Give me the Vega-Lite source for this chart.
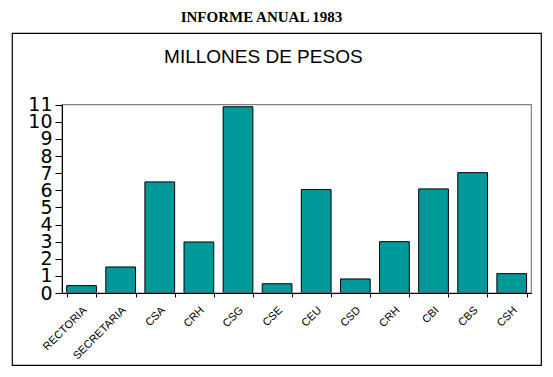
{
  "$schema": "https://vega.github.io/schema/vega-lite/v6.json",
  "width": 529,
  "height": 332,
  "autosize": "none",
  "padding": {"left": 12, "top": 33, "right": 12, "bottom": 12},
  "background": "white",
  "config": {"view": {"stroke": "black", "strokeWidth": 1.2}, "axisY": {"labelOverlap": false}},
  "title": {"text": "INFORME ANUAL 1983", "font": "Liberation Serif", "fontSize": 15, "fontWeight": "bold", "color": "black", "anchor": "middle", "dx": -15, "offset": 8},
  "layer": [
    {
      "data": {"values": [
        {"unidad": "RECTORIA", "valor": 0.43},
        {"unidad": "SECRETARIA", "valor": 1.52},
        {"unidad": "CSA", "valor": 6.49},
        {"unidad": "CRH", "valor": 2.98},
        {"unidad": "CSG", "valor": 10.88},
        {"unidad": "CSE", "valor": 0.54},
        {"unidad": "CEU", "valor": 6.04},
        {"unidad": "CSD", "valor": 0.82},
        {"unidad": " CRH", "valor": 3.0},
        {"unidad": "CBI", "valor": 6.08},
        {"unidad": "CBS", "valor": 7.03},
        {"unidad": "CSH", "valor": 1.13}
      ]},
      "mark": {"type": "bar", "fill": "#009999", "stroke": "black", "strokeWidth": 1},
      "encoding": {
        "x": {
          "field": "unidad", "type": "nominal", "sort": null,
          "scale": {"range": [50, 519.3], "paddingInner": 0.24, "paddingOuter": 0.12},
          "axis": {"orient": "bottom", "title": null, "labelAngle": -45, "labelAlign": "right", "labelBaseline": "top", "labelFont": "Liberation Sans", "labelFontSize": 11, "labelColor": "black", "tickColor": "black", "domainColor": "black", "tickSize": 4, "tickBand": "extent", "labelPadding": 7, "labelOffset": -1, "offset": -72, "zindex": 1}
        },
        "y": {
          "field": "valor", "type": "quantitative",
          "scale": {"domain": [0, 11], "range": [260, 71.7], "nice": false},
          "axis": {"orient": "left", "title": null, "values": [0, 2, 4, 6, 8, 10], "labelFont": "DejaVu Sans", "labelFontSize": 19, "labelColor": "black", "tickColor": "black", "domainColor": "black", "tickSize": 7, "labelPadding": 3, "offset": -50, "grid": false, "zindex": 1, "labelOverlap": false, "labelFlush": false, "labelBound": false}
        }
      }
    },
    {
      "data": {"values": [{}]},
      "layer": [
        {
          "mark": {"type": "rect", "fillOpacity": 0, "stroke": "#808080", "strokeWidth": 1.2},
          "encoding": {
            "x": {"datum": 0, "type": "quantitative", "scale": {"domain": [0, 1], "range": [50, 519.3]}, "axis": null},
            "x2": {"datum": 1},
            "y": {"datum": 0, "type": "quantitative", "axis": {"orient": "left", "title": null, "values": [1, 3, 5, 7, 9, 11], "labelFont": "DejaVu Sans", "labelFontSize": 19, "labelColor": "black", "tickColor": "black", "domainColor": "black", "tickSize": 7, "labelPadding": 3, "offset": -50, "grid": false, "zindex": 1, "labelOverlap": false, "labelFlush": false, "labelBound": false}},
            "y2": {"datum": 11}
          }
        },
        {
          "mark": {"type": "text", "font": "Liberation Sans", "fontSize": 19, "color": "black", "align": "center", "baseline": "alphabetic"},
          "encoding": {
            "x": {"datum": 0.429, "type": "quantitative"},
            "y": {"datum": 13.44, "type": "quantitative"},
            "text": {"value": "MILLONES DE PESOS"}
          }
        }
      ]
    }
  ],
  "resolve": {"scale": {"x": "independent", "y": "shared"}, "axis": {"x": "independent", "y": "independent"}}
}
